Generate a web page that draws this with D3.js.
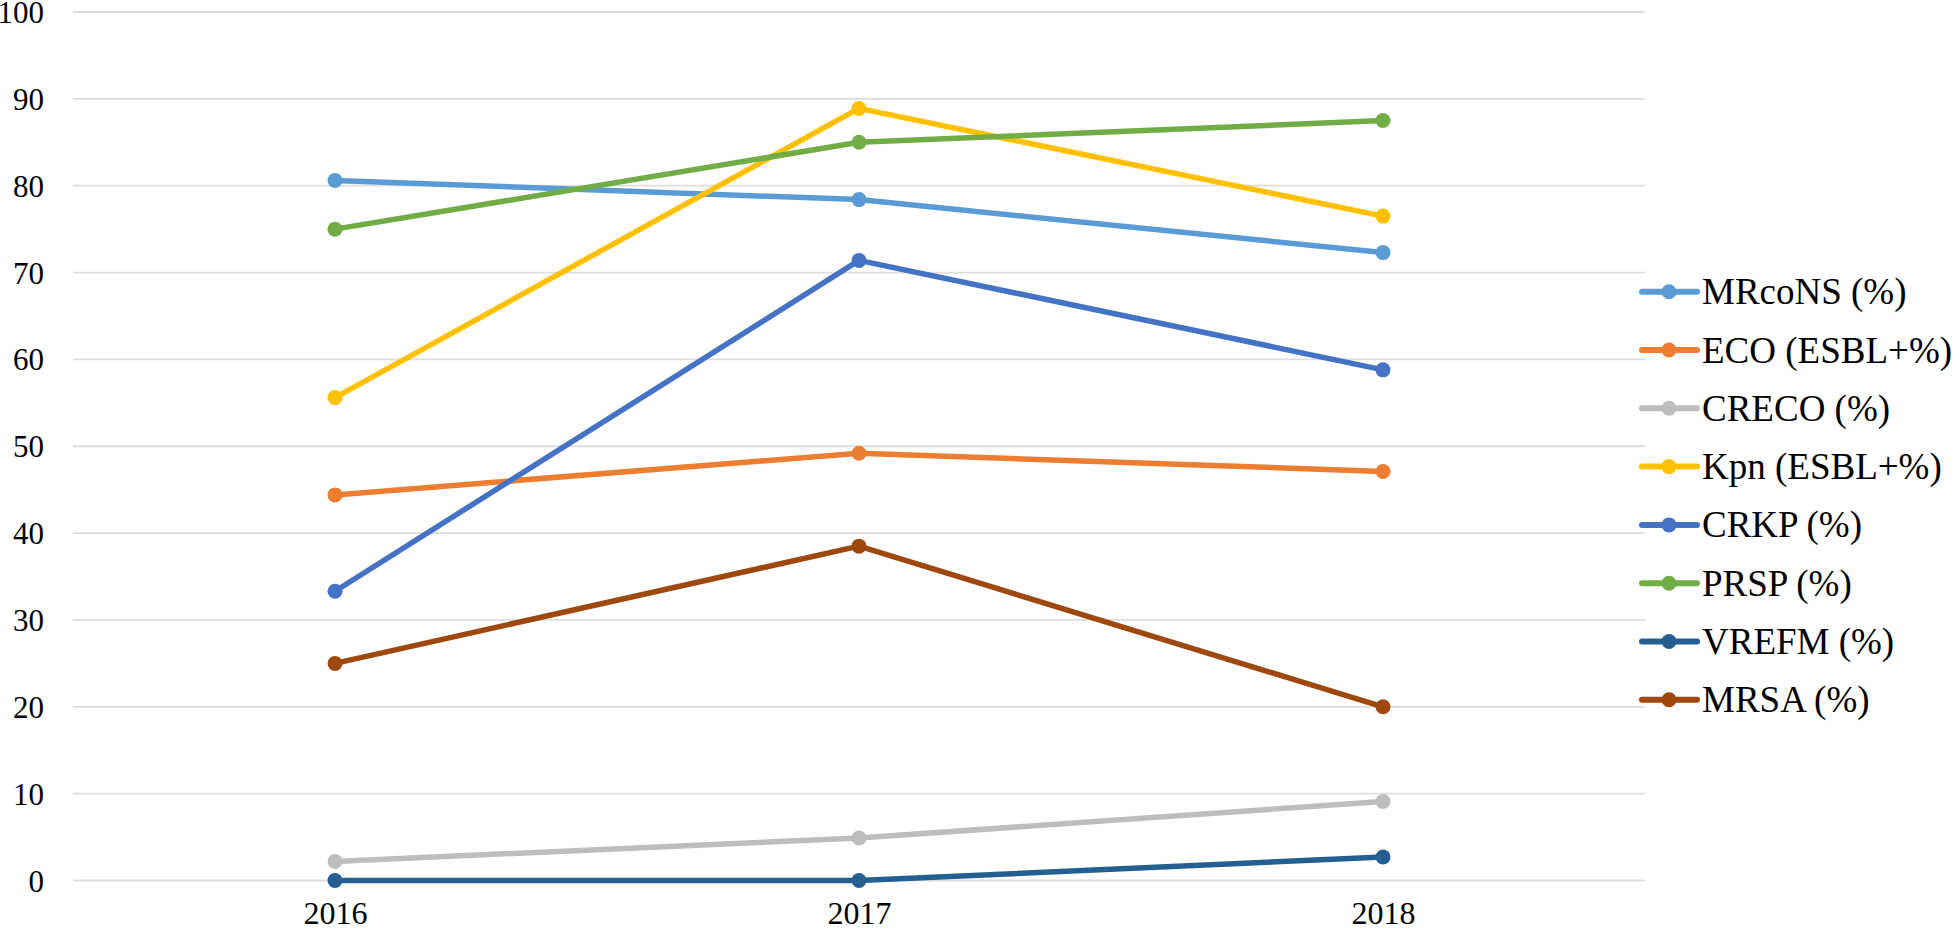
<!DOCTYPE html>
<html>
<head>
<meta charset="utf-8">
<script src="https://cdn.jsdelivr.net/npm/d3@7"></script>
<style>
  html, body { margin: 0; padding: 0; background: #ffffff; }
  svg { display: block; }
  text { font-family: "Liberation Serif", "DejaVu Serif", "Times New Roman", serif; fill: #000; }
</style>
</head>
<body>
<svg id="chart" width="1960" height="932"></svg>
<script>
const years = ["2016", "2017", "2018"];
const seriesNames = ["MRcoNS (%)", "ECO (ESBL+%)", "CRECO (%)", "Kpn (ESBL+%)", "CRKP (%)", "PRSP (%)", "VREFM (%)", "MRSA (%)"];
const mrcons = [80.6, 78.4, 72.3];
const eco = [44.4, 49.2, 47.1];
const creco = [2.2, 4.9, 9.1];
const kpn = [55.6, 88.9, 76.5];
const crkp = [33.3, 71.4, 58.8];
const prsp = [75.0, 85.0, 87.5];
const vrefm = [0, 0, 2.7];
const mrsa = [25.0, 38.5, 20.0];
const seriesValues = [mrcons, eco, creco, kpn, crkp, prsp, vrefm, mrsa];
const colors = ["#5B9BD5", "#ED7D31", "#BDBDBD", "#FFC000", "#4472C4", "#70AD47", "#255E91", "#9E480E"];
const yTicks = [0, 10, 20, 30, 40, 50, 60, 70, 80, 90, 100];

const svg = d3.select("#chart");
const plot = { left: 73, right: 1645, top: 12, bottom: 880.5 };
const serif = "'Liberation Serif', 'DejaVu Serif', 'Times New Roman', serif";

const x = d3.scalePoint().domain(years).range([plot.left, plot.right]).padding(0.5);
const y = d3.scaleLinear().domain([0, 100]).range([plot.bottom, plot.top]);

// gridlines
svg.append("g").selectAll("line").data(yTicks).join("line")
  .attr("x1", plot.left).attr("x2", plot.right)
  .attr("y1", d => y(d)).attr("y2", d => y(d))
  .attr("stroke", "#dedede").attr("stroke-width", 1.8);

// y axis labels
const yAxis = d3.axisLeft(y).tickValues(yTicks).tickSize(0).tickPadding(0);
const yg = svg.append("g").attr("transform", `translate(44,0)`).call(yAxis);
yg.attr("font-family", null);
yg.select(".domain").remove();
yg.selectAll("text").style("font-size", "31px").style("font-family", serif).attr("fill", "#000").attr("dy", "0.34em");

// x axis labels
const xAxis = d3.axisBottom(x).tickSize(0).tickPadding(0);
const xg = svg.append("g").attr("transform", `translate(0,901)`).call(xAxis);
xg.attr("font-family", null);
xg.select(".domain").remove();
xg.selectAll("text").style("font-size", "32px").style("font-family", serif).attr("fill", "#000").attr("dy", "0.71em");

// lines
const line = d3.line().x((d, i) => x(years[i])).y(d => y(d));
seriesValues.forEach((vals, si) => {
  const g = svg.append("g");
  g.append("path").datum(vals)
    .attr("d", line)
    .attr("fill", "none")
    .attr("stroke", colors[si])
    .attr("stroke-width", 5.5)
    .attr("stroke-linejoin", "round")
    .attr("stroke-linecap", "round");
  g.selectAll("circle").data(vals).join("circle")
    .attr("cx", (d, i) => x(years[i]))
    .attr("cy", d => y(d))
    .attr("r", 7.5)
    .attr("fill", colors[si]);
});

// legend
const legend = svg.append("g");
const legY0 = 291.7, legStep = 58.3;
seriesNames.forEach((name, i) => {
  const yy = legY0 + i * legStep;
  legend.append("line")
    .attr("x1", 1642).attr("x2", 1697).attr("y1", yy).attr("y2", yy)
    .attr("stroke", colors[i]).attr("stroke-width", 6).attr("stroke-linecap", "round");
  legend.append("circle").attr("cx", 1669).attr("cy", yy).attr("r", 7.5).attr("fill", colors[i]);
  legend.append("text").attr("x", 1702).attr("y", yy).attr("dy", "0.34em")
    .style("font-size", "37px").style("font-family", serif).text(name);
});
</script>
</body>
</html>
